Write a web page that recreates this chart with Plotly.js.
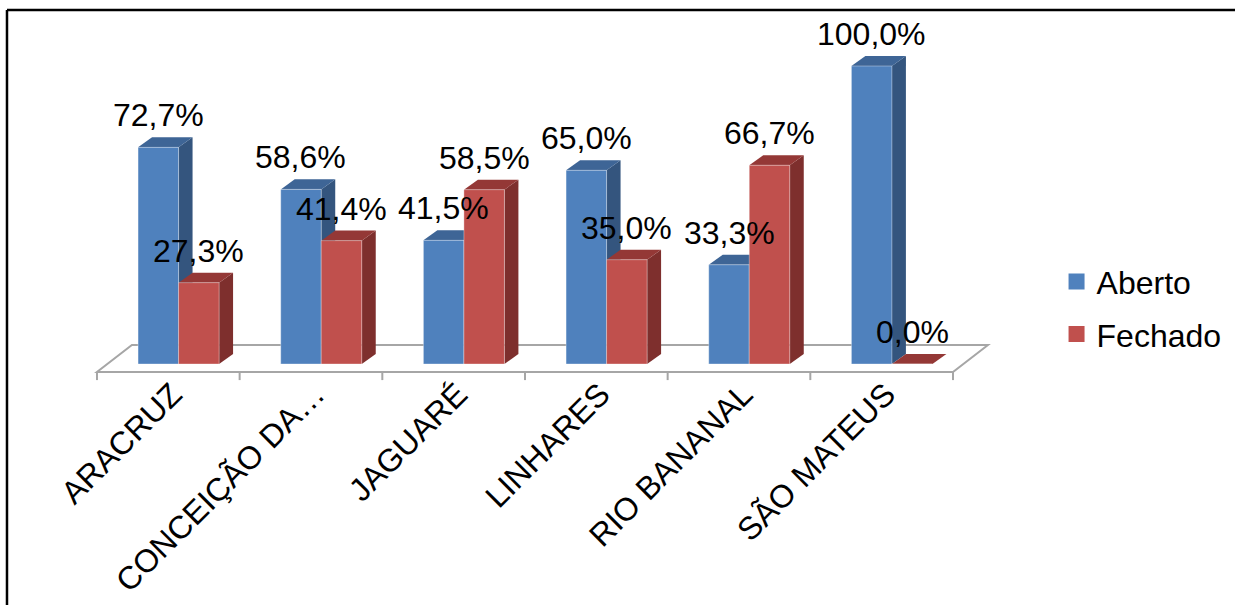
<!DOCTYPE html>
<html>
<head>
<meta charset="utf-8">
<script src="https://cdn.plot.ly/plotly-3.0.1.min.js"></script>
<style>html,body{margin:0;padding:0;background:#fff;}#chart{width:1235px;height:605px;}</style>
</head>
<body>
<div id="chart"></div>
<script>
// ---- data ----
const categories = ['ARACRUZ', 'CONCEIÇÃO DA…', 'JAGUARÉ', 'LINHARES', 'RIO BANANAL', 'SÃO MATEUS'];
const aberto = [72.7, 58.6, 41.5, 65.0, 33.3, 100.0];
const fechado = [27.3, 41.4, 58.5, 35.0, 66.7, 0.0];
const seriesNames = ['Aberto', 'Fechado'];

// ---- style / geometry ----
const FONT = 'Liberation Sans, Arial, sans-serif';
const FS = 32;
const BW = 0.284;          // bar front width (category units)
const OFF_A = -0.212, OFF_F = 0.072;
const DX = 0.098, DY = 3.36;          // bar depth offset
const FDX = 0.245, FFRONT = -2.68, FBACK = 6.38; // floor
const TICKBOT = -5.4;
const colA = {front: '#4F81BD', side: '#34557E', top: '#3E6596'};
const colF = {front: '#C0504D', side: '#7E2F2D', top: '#943836'};

const idx = categories.map((_, i) => i);
const N = categories.length;
const fmt = v => v.toFixed(1).replace('.', ',') + '%';

const shapes = [];
// floor
const bl = -0.5, br = N - 0.5;
shapes.push({type: 'path', xref: 'x', yref: 'y', layer: 'below',
  path: `M${bl},${FFRONT} L${br},${FFRONT} L${br + FDX},${FBACK} L${bl + FDX},${FBACK} Z`,
  fillcolor: '#FFFFFF', line: {color: '#A6A6A6', width: 2}});
// boundary ticks
for (let k = 0; k <= N; k++) {
  const xb = k - 0.5;
  shapes.push({type: 'line', xref: 'x', yref: 'y', layer: 'below',
    x0: xb, x1: xb, y0: FFRONT, y1: TICKBOT, line: {color: '#A6A6A6', width: 2}});
}
function faces(i, off, v, col) {
  const x0 = i + off, x1 = x0 + BW;
  if (v > 0) {
    shapes.push({type: 'path', xref: 'x', yref: 'y', layer: 'below',
      path: `M${x1},0 L${x1 + DX},${DY} L${x1 + DX},${v + DY} L${x1},${v} Z`,
      fillcolor: col.side, line: {width: 0}});
  }
  shapes.push({type: 'path', xref: 'x', yref: 'y', layer: 'below',
    path: `M${x0},${v} L${x1},${v} L${x1 + DX},${v + DY} L${x0 + DX},${v + DY} Z`,
    fillcolor: col.top, line: {width: 0}});
}
idx.forEach(i => { faces(i, OFF_A, aberto[i], colA); faces(i, OFF_F, fechado[i], colF); });

// outer border (paper)
shapes.push({type: 'line', xref: 'paper', yref: 'paper', x0: -0.0558, x1: 1.24, y0: 1.0276, y1: 1.0276, line: {color: '#000', width: 2.5}});
shapes.push({type: 'line', xref: 'paper', yref: 'paper', x0: -0.0558, x1: -0.0558, y0: 1.0276, y1: -0.62, line: {color: '#000', width: 2.5}});

const annotations = [];
idx.forEach(i => {
  annotations.push({x: i + OFF_A + BW / 2, y: aberto[i], xref: 'x', yref: 'y', text: fmt(aberto[i]),
    showarrow: false, yanchor: 'bottom', yshift: 12, font: {family: FONT, size: FS, color: '#000'}});
  annotations.push({x: i + OFF_F + BW / 2, y: fechado[i], xref: 'x', yref: 'y', text: fmt(fechado[i]),
    showarrow: false, yanchor: 'bottom', yshift: 12, font: {family: FONT, size: FS, color: '#000'}});
});

const traces = [
  {type: 'bar', x: idx, y: aberto, width: BW, offset: OFF_A, name: seriesNames[0], showlegend: false,
   marker: {color: colA.front, line: {color: 'rgba(255,255,255,0.35)', width: 1}}, hoverinfo: 'skip'},
  {type: 'bar', x: idx, y: fechado, width: BW, offset: OFF_F, name: seriesNames[1], showlegend: false,
   marker: {color: colF.front, line: {color: 'rgba(255,255,255,0.35)', width: 1}}, hoverinfo: 'skip'},
  {type: 'scatter', mode: 'markers', x: [null], y: [null], name: seriesNames[0], legendgroup: 'a',
   marker: {symbol: 'square', size: 17, color: colA.front}},
  {type: 'scatter', mode: 'markers', x: [null], y: [null], name: seriesNames[1], legendgroup: 'b',
   marker: {symbol: 'square', size: 17, color: colF.front}}
];

const layout = {
  width: 1235, height: 605,
  margin: {l: 60, r: 225, t: 20, b: 223, autoexpand: false},
  paper_bgcolor: '#FFFFFF', plot_bgcolor: 'rgba(0,0,0,0)',
  barmode: 'overlay',
  font: {family: FONT, size: FS, color: '#000'},
  xaxis: {range: [-0.7591, 5.8996], tickvals: idx.map(i => i + 0.03), ticktext: categories,
    tickangle: -45, tickfont: {family: FONT, size: FS, color: '#000'}, showgrid: false, zeroline: false,
    showline: false, ticks: '', ticklabelstandoff: -14, automargin: false},
  yaxis: {range: [-6.04, 115.44], visible: false, showgrid: false, zeroline: false, automargin: false},
  shapes: shapes,
  annotations: annotations,
  showlegend: true,
  legend: {x: 1.049, y: 0.353, xanchor: 'left', yanchor: 'top', traceorder: 'grouped', tracegroupgap: 8,
    font: {family: FONT, size: FS, color: '#000'}, bgcolor: 'rgba(0,0,0,0)'}
};

Plotly.newPlot('chart', traces, layout, {displayModeBar: false, staticPlot: true});
</script>
</body>
</html>
